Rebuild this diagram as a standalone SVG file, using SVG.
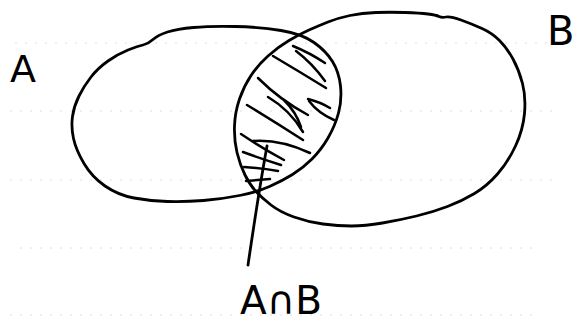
<svg xmlns="http://www.w3.org/2000/svg" width="574" height="325" viewBox="0 0 574 325">
<style>
.ink{fill:none;stroke:#000;stroke-width:2.8;stroke-linecap:round;stroke-linejoin:round}
.hatch{fill:none;stroke:#000;stroke-width:2.5;stroke-linecap:round}
.rule{stroke:#dedede;stroke-width:1;stroke-dasharray:2 8}
.lbl{font-family:"DejaVu Sans","Liberation Sans",sans-serif;fill:#000}
</style>
<rect width="574" height="325" fill="#fff"/>
<g id="ruling">
<line class="rule" x1="15" y1="43" x2="556" y2="43"/>
<line class="rule" x1="10" y1="111" x2="556" y2="111"/>
<line class="rule" x1="10" y1="180" x2="556" y2="180"/>
<line class="rule" x1="20" y1="248" x2="540" y2="248"/>
<line class="rule" x1="10" y1="315" x2="540" y2="315"/>
</g>
<g id="set-A">
<path class="ink" d="M314,42.5 Q302,34 281,30.5 Q260,27 235,26.5 Q210,26 193.5,27.5 Q177,29 167.5,32 Q158,35 153,39.5 Q148,44 143,45 Q138,46 128,50 Q118,54 108,61 Q98,68 91,77 Q84,86 79,96 Q74,106 72.5,116.5 Q71,127 73.5,138.5 Q76,150 84,163.5 Q92,177 105,186 Q118,195 134,198 Q150,201 167.5,201.5 Q185,202 203.5,200.5 Q222,199 239.5,195.5 Q257,192 269.5,186.5 Q282,181 292.5,174.5 Q303,168 312,159 Q321,150 328,138 Q335,126 338.5,113 Q342,100 340.5,86 Q339,72 332.5,61.5 Q326,51 314,42.5 Z"/>
<text class="lbl" x="10" y="82" font-size="38">A</text>
</g>
<g id="set-B">
<path class="ink" d="M289,40.5 Q300,34 309,30 Q318,26 328,22 Q338,18 350,15.5 Q362,13 376,12.5 Q390,12 405,12.5 Q420,13 428,14 Q436,15 439,16.5 Q442,18 446,17 Q450,16 461,20 Q472,24 482,28.5 Q492,33 499.5,40.5 Q507,48 513,59 Q519,70 522.5,83.5 Q526,97 524.5,113.5 Q523,130 515.5,146 Q508,162 497.5,174 Q487,186 474.5,193.5 Q462,201 447.5,206.5 Q433,212 416.5,216 Q400,220 382.5,223 Q365,226 351.5,226 Q338,226 323,224 Q308,222 294,217 Q280,212 271,205 Q262,198 256,191.5 Q250,185 245,175 Q240,165 237,152.5 Q234,140 234.5,126 Q235,112 239.5,99 Q244,86 251,75.5 Q258,65 268,56 Q278,47 289,40.5 Z"/>
<text class="lbl" x="547" y="45" font-size="40">B</text>
</g>
<g id="intersection">
<path class="hatch" d="M293,46 Q310,53 325,63"/>
<path class="hatch" d="M296,51 Q312,63 325,81"/>
<path class="hatch" d="M273,56 Q300,72 326,88"/>
<path class="hatch" d="M258,78 Q280,100 308,115"/>
<path class="hatch" d="M268,97 Q290,110 303,132"/>
<path class="hatch" d="M284,100 Q296,112 301,127"/>
<path class="hatch" d="M308,99 Q320,102 330,108"/>
<path class="hatch" d="M309,101 Q318,113 334,120"/>
<path class="hatch" d="M247,105 Q275,122 303,140"/>
<path class="hatch" d="M253,141 Q280,139 310,153"/>
<path class="hatch" d="M241,134 Q262,148 284,160"/>
<path class="hatch" d="M243,152 Q262,159 281,165"/>
<path class="hatch" d="M244,167 Q262,168 278,171"/>
<path class="hatch" d="M246,181 Q258,180 270,179"/>
</g>
<g id="connectors">
<path class="ink" d="M267,146 Q259,190 248,265"/>
</g>
<g id="label-AnB">
<text class="lbl" x="240" y="314" font-size="39">A∩B</text>
</g>
</svg>
